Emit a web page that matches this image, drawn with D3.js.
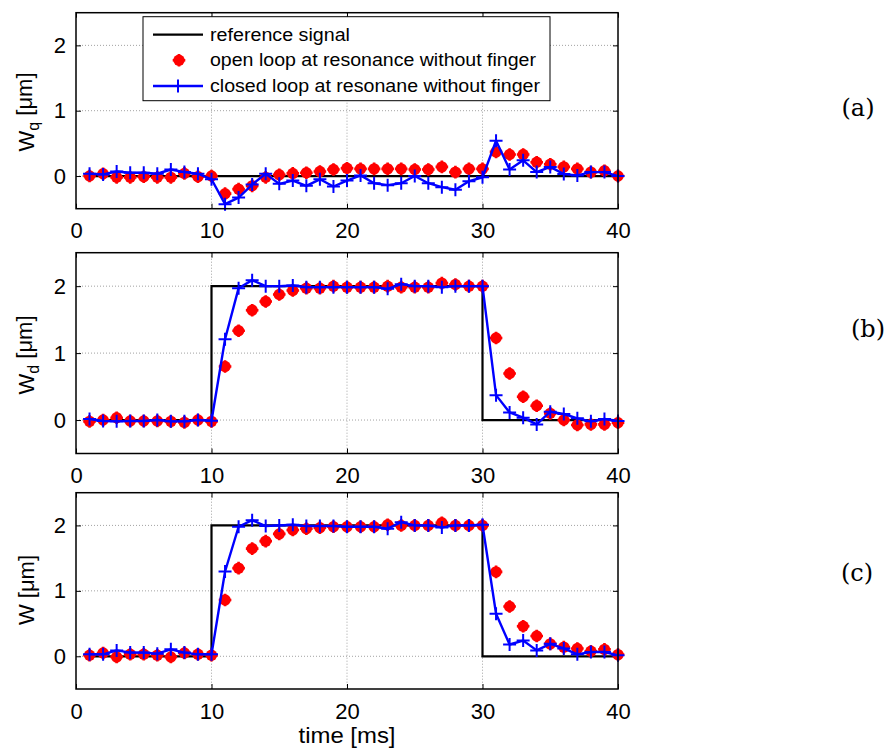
<!DOCTYPE html>
<html><head><meta charset="utf-8">
<script src="https://cdn.jsdelivr.net/npm/d3@7"></script>
<style>body{margin:0;background:#fff} svg{display:block}</style>
</head><body>
<svg id="chart" width="891" height="749"></svg>
<script>
// ---------- data ----------
const time = [1,2,3,4,5,6,7,8,9,10,11,12,13,14,15,16,17,18,19,20,21,22,23,24,25,26,27,28,29,30,31,32,33,34,35,36,37,38,39,40];
const xTicks = [0,10,20,30,40];
const yTicks = [0,1,2];
const refTime = [1,10,10,30,30,40];
const refA = [0,0,0,0,0,0];
const refB = [0,0,2,2,0,0];
const refC = [0,0,2,2,0,0];

const openA = [0.0,0.035,-0.02,-0.02,-0.01,-0.02,-0.02,0.04,-0.01,0.0,-0.27,-0.2,-0.15,-0.02,0.02,0.04,0.05,0.07,0.1,0.12,
               0.11,0.11,0.11,0.11,0.1,0.1,0.14,0.06,0.11,0.11,0.37,0.33,0.33,0.21,0.18,0.14,0.11,0.06,0.08,0.0];
const closedA = [0.035,0.025,0.07,0.05,0.05,0.035,0.1,0.06,0.035,-0.05,-0.43,-0.33,-0.13,0.035,-0.12,-0.07,-0.15,-0.05,-0.16,-0.07,
                 0.01,-0.11,-0.14,-0.11,0.0,-0.11,-0.17,-0.21,-0.08,-0.02,0.54,0.1,0.24,0.06,0.14,0.03,0.01,0.06,0.06,0.0];

const openB = [-0.02,0.0,0.035,-0.015,-0.015,-0.015,-0.02,-0.035,0.0,-0.02,0.80,1.335,1.64,1.77,1.876,1.935,1.97,1.97,2.0,1.985,
               1.985,1.985,2.0,1.985,1.985,1.985,2.045,2.025,2.0,2.0,1.226,0.695,0.347,0.213,0.1,0.0,-0.075,-0.065,-0.065,-0.04];
const closedB = [0.015,-0.015,-0.02,-0.015,-0.015,0.0,-0.02,-0.02,0.0,-0.01,1.206,1.97,2.09,2.0,2.0,2.01,1.985,1.985,1.985,1.985,
                 1.985,1.985,1.96,2.03,2.0,2.0,1.985,2.0,2.0,2.0,0.372,0.114,0.035,-0.065,0.124,0.09,0.025,-0.02,0.015,-0.015];

const openC = [0.015,0.05,-0.01,0.03,0.03,0.015,-0.01,0.05,0.03,0.015,0.86,1.347,1.646,1.76,1.87,1.93,1.95,1.965,1.98,1.98,
               1.98,1.98,2.01,2.0,2.0,2.0,2.04,2.0,2.0,2.0,1.29,0.76,0.46,0.31,0.19,0.14,0.12,0.076,0.106,0.025];
const closedC = [0.03,0.03,0.09,0.056,0.056,0.04,0.106,0.056,0.03,0.03,1.296,1.98,2.08,1.99,2.0,2.01,1.99,1.99,1.99,1.98,
                 1.98,1.98,1.95,2.05,2.0,2.0,1.97,2.0,2.0,2.01,0.65,0.18,0.24,0.09,0.19,0.12,0.03,0.066,0.066,0.015];

const legendLabels = ["reference signal","open loop at resonance without finger","closed loop at resonane without finger"];
const panelTags = ["(a)","(b)","(c)"];
const xLabel = "time [ms]";
const yLabelSubs = ["q","d",""];

// ---------- layout ----------
const svg = d3.select("#chart");
const left = 76, right = 618;
const panels = [
  {top: 12.7, bottom: 208.7, ref: refA, open: openA, closed: closedA, sub: yLabelSubs[0], tag: panelTags[0], tagX: 858, tagY: 116, labY: 112},
  {top: 252.7, bottom: 453.5, ref: refB, open: openB, closed: closedB, sub: yLabelSubs[1], tag: panelTags[1], tagX: 868, tagY: 337, labY: 355},
  {top: 492.7, bottom: 689, ref: refC, open: openC, closed: closedC, sub: yLabelSubs[2], tag: panelTags[2], tagX: 857, tagY: 581, labY: 590}
];
const x = d3.scaleLinear().domain([0,40]).range([left,right]);
const tickFont = "Liberation Sans, Arial, sans-serif";

function redMarker(g, cx, cy){
  g.append("circle").attr("cx",cx).attr("cy",cy).attr("r",5.7).attr("fill","#ff0000");
  g.append("path").attr("d",`M${cx-6.3},${cy}H${cx+6.3}M${cx},${cy-6.3}V${cy+6.3}`)
    .attr("stroke","#ff0000").attr("stroke-width",2.6);
}
function bluePlus(g, cx, cy){
  g.append("path").attr("d",`M${cx-6.5},${cy}H${cx+6.5}M${cx},${cy-6.5}V${cy+6.5}`)
    .attr("stroke","#0000ff").attr("stroke-width",2);
}

panels.forEach((p,i)=>{
  const y = d3.scaleLinear().domain([-0.5,2.5]).range([p.bottom,p.top]);
  const g = svg.append("g");
  g.append("rect").attr("x",left).attr("y",p.top).attr("width",right-left).attr("height",p.bottom-p.top).attr("fill","#fff");
  // grid
  const grid = g.append("g").attr("stroke","#8a8a8a").attr("stroke-width",0.8).attr("stroke-dasharray","1,2");
  [10,20,30].forEach(v=>grid.append("line").attr("x1",x(v)).attr("x2",x(v)).attr("y1",p.top).attr("y2",p.bottom));
  yTicks.forEach(v=>grid.append("line").attr("x1",left).attr("x2",right).attr("y1",y(v)).attr("y2",y(v)));

  // axes (inner ticks)
  const xb = d3.axisBottom(x).tickValues(xTicks).tickFormat(d3.format("d")).tickSizeInner(-5).tickSizeOuter(0).tickPadding(14);
  const xt = d3.axisTop(x).tickValues(xTicks).tickSizeInner(-5).tickSizeOuter(0).tickFormat("");
  const yl = d3.axisLeft(y).tickValues(yTicks).tickFormat(d3.format("d")).tickSizeInner(-5).tickSizeOuter(0).tickPadding(10);
  const yr = d3.axisRight(y).tickValues(yTicks).tickSizeInner(-5).tickSizeOuter(0).tickFormat("");
  const axB = g.append("g").attr("transform",`translate(0,${p.bottom})`).call(xb);
  const axT = g.append("g").attr("transform",`translate(0,${p.top})`).call(xt);
  const axL = g.append("g").attr("transform",`translate(${left},0)`).call(yl);
  const axR = g.append("g").attr("transform",`translate(${right},0)`).call(yr);
  [axB,axT,axL,axR].forEach(a=>{
    a.select(".domain").remove();
    a.selectAll(".tick line").attr("stroke","#000").attr("stroke-width",1);
    a.selectAll("text").attr("font-family",tickFont).attr("font-size",22).attr("fill","#000");
  });

  // reference
  const line = d3.line().x((d,k)=>x(refTime[k])).y(d=>y(d));
  g.append("path").datum(p.ref).attr("d",line).attr("fill","none").attr("stroke","#000").attr("stroke-width",2.2);
  // open loop markers
  const mg = g.append("g");
  p.open.forEach((v,k)=>redMarker(mg, x(time[k]), y(v)));
  // closed loop
  const cl = d3.line().x((d,k)=>x(time[k])).y(d=>y(d));
  g.append("path").datum(p.closed).attr("d",cl).attr("fill","none").attr("stroke","#0000ff").attr("stroke-width",2.4).attr("stroke-linejoin","round");
  const bg = g.append("g");
  p.closed.forEach((v,k)=>bluePlus(bg, x(time[k]), y(v)));

  // frame
  g.append("rect").attr("x",left).attr("y",p.top).attr("width",right-left).attr("height",p.bottom-p.top)
    .attr("fill","none").attr("stroke","#000").attr("stroke-width",1.5);

  // y label
  const yt = svg.append("text").attr("transform",`translate(34,${p.labY}) rotate(-90)`)
    .attr("text-anchor","middle").attr("font-family",tickFont).attr("font-size",22).attr("fill","#000");
  yt.append("tspan").text("W");
  if(p.sub){
    yt.append("tspan").attr("font-size",16).attr("dy","0.3em").text(p.sub);
    yt.append("tspan").attr("dy","-0.3em").text(" [μm]");
  } else {
    yt.append("tspan").text(" [μm]");
  }
  // panel tag
  svg.append("text").attr("x",p.tagX).attr("y",p.tagY).attr("text-anchor","middle")
    .attr("font-family","DejaVu Serif, Liberation Serif, serif").attr("font-size",24).attr("fill","#000").text(p.tag);
});

// x label
svg.append("text").attr("x",x(20)).attr("y",743).attr("text-anchor","middle")
  .attr("font-family",tickFont).attr("font-size",22).attr("textLength",97).attr("lengthAdjust","spacingAndGlyphs").text(xLabel);

// legend
const lg = svg.append("g");
lg.append("rect").attr("x",143).attr("y",16.7).attr("width",407).attr("height",84).attr("fill","#fff").attr("stroke","#000").attr("stroke-width",1);
const rowY = [34.7,60.3,86];
const textLens = [140,326,330];
legendLabels.forEach((t,k)=>{
  lg.append("text").attr("x",210).attr("y",rowY[k]).attr("dy","0.35em")
    .attr("font-family",tickFont).attr("font-size",17.5).attr("fill","#000")
    .attr("textLength",textLens[k]).attr("lengthAdjust","spacingAndGlyphs").text(t);
});
lg.append("line").attr("x1",153).attr("x2",203).attr("y1",rowY[0]).attr("y2",rowY[0]).attr("stroke","#000").attr("stroke-width",2.2);
redMarker(lg,179,rowY[1]);
lg.append("line").attr("x1",153).attr("x2",203).attr("y1",rowY[2]).attr("y2",rowY[2]).attr("stroke","#0000ff").attr("stroke-width",2.4);
bluePlus(lg,178,rowY[2]);
</script>
</body></html>
